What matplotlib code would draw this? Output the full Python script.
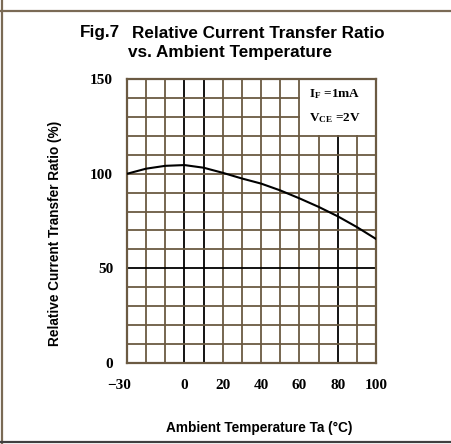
import numpy as np
import matplotlib
matplotlib.use('Agg')
import matplotlib.pyplot as plt
from matplotlib.lines import Line2D
from matplotlib.transforms import ScaledTranslation

# Data
temps = [-30, -20, -10, 0, 10, 20, 30, 40, 50, 60, 70, 80, 90, 100]
ctr = [100.0, 102.7, 104.2, 104.6, 103.2, 100.5, 97.5, 94.8, 91.2, 87.0, 82.5, 77.5, 71.8, 65.5]

x_ticks = [-30, 0, 20, 40, 60, 80, 100]
y_ticks = [0, 50, 100, 150]

plt.rcParams['mathtext.fontset'] = 'custom'
plt.rcParams['mathtext.rm'] = 'Liberation Serif'
plt.rcParams['mathtext.bf'] = 'Liberation Serif:bold'

W, H = 451, 444
fig = plt.figure(figsize=(W / 100, H / 100), dpi=100)
fig.patch.set_facecolor('white')

ax = fig.add_axes([127 / W, 1 - 362.7 / H, 249 / W, 283.4 / H])
ax.set_xlim(-30, 100)
ax.set_ylim(0, 150)

brown = '#6b5a42'
# grid
for gx in range(-20, 100, 10):
    c = 'black' if gx in (0, 10, 80) else brown
    top = 120 if gx >= 60 else 150
    ax.plot([gx, gx], [0, top], color=c, lw=1.3, zorder=1)
for gy in range(10, 150, 10):
    c = 'black' if gy == 50 else brown
    right = 60 if gy > 120 else 100
    ax.plot([-30, right], [gy, gy], color=c, lw=1.3, zorder=1)
ax.plot([60, 60], [120, 150], color=brown, lw=1.3, zorder=1)

for s in ax.spines.values():
    s.set_color(brown)
    s.set_linewidth(1.6)

ax.plot(temps, ctr, color='black', lw=1.5, zorder=3)

ax.text(65, 142, r'$\mathbf{I_F}$ =1mA', fontsize=9.5, family='Liberation Serif',
        fontweight='bold', va='center', ha='left')
ax.text(65, 129.5, r'$\mathbf{V_{CE}}$ =2V', fontsize=9.5, family='Liberation Serif',
        fontweight='bold', va='center', ha='left')

ax.set_xticks(x_ticks)
ax.set_yticks(y_ticks)
ax.set_xticklabels(['\u221230' if v == -30 else str(v) for v in x_ticks])
ax.tick_params(length=0)
ax.tick_params(axis='y', pad=10)
ax.tick_params(axis='x', pad=12)
for lab in ax.get_xticklabels() + ax.get_yticklabels():
    lab.set_family('Liberation Serif')
    lab.set_fontweight('bold')
    lab.set_fontsize(11)
first = ax.get_xticklabels()[0]
first.set_transform(first.get_transform() + ScaledTranslation(-0.075, 0, fig.dpi_scale_trans))

# titles and axis labels
fig.text(80 / W, 1 - 33 / H, 'Fig.7', fontsize=12.3, fontweight='bold',
         family='Liberation Sans', va='center', ha='left')
fig.text(132 / W, 1 - 33 / H, 'Relative Current Transfer Ratio', fontsize=12.3,
         fontweight='bold', family='Liberation Sans', va='center', ha='left')
fig.text(128 / W, 1 - 53 / H, 'vs. Ambient Temperature', fontsize=12.3,
         fontweight='bold', family='Liberation Sans', va='center', ha='left')
fig.text(259 / W, 1 - 428 / H, 'Ambient Temperature Ta (\u00b0C)', fontsize=9.8,
         fontweight='bold', family='Liberation Sans', va='center', ha='center')
fig.text(55 / W, 1 - 233 / H, 'Relative Current Transfer Ratio (%)', fontsize=9.8,
         fontweight='bold', family='Liberation Sans', va='center', ha='center', rotation=90)

# outer frame
fig.add_artist(Line2D([0, 1], [1 - 11 / H, 1 - 11 / H], color='#7a6a55', lw=1.6))
fig.add_artist(Line2D([2 / W, 2 / W], [0, 1], color='#7a6a55', lw=1.6))
fig.add_artist(Line2D([0, 1], [1 - 441.5 / H, 1 - 441.5 / H], color='#404040', lw=1.6))

fig.savefig('out.png', dpi=100)
